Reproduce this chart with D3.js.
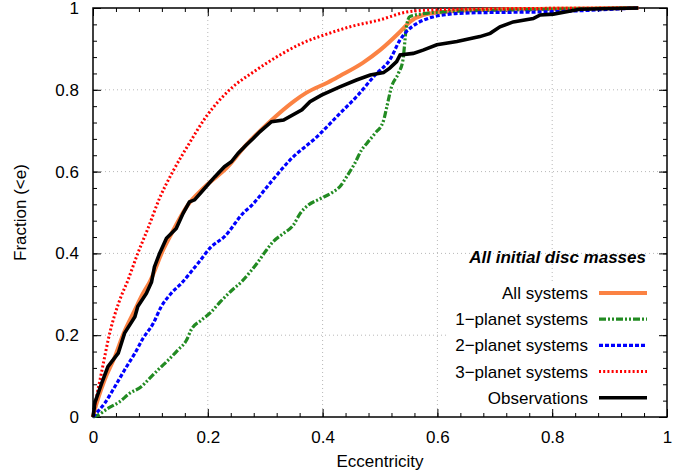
<!DOCTYPE html>
<html><head><meta charset="utf-8">
<script src="https://cdn.jsdelivr.net/npm/d3@7"></script>
<style>body{margin:0;background:#fff}svg{display:block;font-family:"Liberation Sans",Arial,sans-serif}</style>
</head><body><svg id="c" width="688" height="475"></svg>
<script>
const allSystems = [[0,0],[0.003,0.017],[0.02,0.09],[0.038,0.147],[0.052,0.2],[0.073,0.262],[0.087,0.302],[0.099,0.331],[0.122,0.408],[0.134,0.441],[0.163,0.514],[0.195,0.563],[0.235,0.612],[0.264,0.661],[0.308,0.722],[0.351,0.773],[0.372,0.793],[0.409,0.818],[0.43,0.834],[0.47,0.866],[0.5,0.897],[0.535,0.942],[0.552,0.966],[0.575,0.983],[0.616,0.991],[0.7,0.996],[0.8,0.998],[0.95,1]];
const onePlanet = [[0,0],[0.009,0.005],[0.026,0.021],[0.046,0.037],[0.064,0.058],[0.084,0.074],[0.099,0.095],[0.116,0.119],[0.131,0.139],[0.148,0.164],[0.163,0.188],[0.171,0.213],[0.189,0.237],[0.206,0.257],[0.222,0.282],[0.242,0.31],[0.259,0.331],[0.274,0.355],[0.288,0.38],[0.30,0.404],[0.314,0.429],[0.332,0.449],[0.349,0.469],[0.361,0.498],[0.375,0.518],[0.395,0.533],[0.419,0.551],[0.43,0.563],[0.442,0.588],[0.456,0.62],[0.468,0.653],[0.477,0.669],[0.491,0.693],[0.506,0.724],[0.512,0.759],[0.52,0.807],[0.532,0.84],[0.54,0.873],[0.546,0.954],[0.552,0.979],[0.57,0.985],[0.616,0.991],[0.75,0.996],[0.95,1]];
const twoPlanet = [[0,0],[0.003,0.005],[0.02,0.033],[0.038,0.074],[0.055,0.115],[0.073,0.156],[0.087,0.192],[0.105,0.229],[0.119,0.27],[0.136,0.302],[0.154,0.327],[0.183,0.376],[0.206,0.416],[0.229,0.441],[0.264,0.502],[0.274,0.514],[0.308,0.571],[0.343,0.628],[0.39,0.685],[0.43,0.742],[0.459,0.783],[0.494,0.84],[0.517,0.873],[0.535,0.922],[0.546,0.942],[0.564,0.962],[0.587,0.976],[0.616,0.984],[0.657,0.988],[0.8,0.991],[0.947,1]];
const threePlanet = [[0,0],[0.005,0.04],[0.015,0.11],[0.03,0.21],[0.045,0.28],[0.061,0.335],[0.078,0.40],[0.096,0.462],[0.116,0.535],[0.139,0.60],[0.166,0.665],[0.197,0.734],[0.238,0.80],[0.282,0.846],[0.328,0.887],[0.363,0.913],[0.409,0.937],[0.45,0.955],[0.5,0.971],[0.546,0.99],[0.6,0.996],[0.7,0.998],[0.95,1]];
const observations = [[0,0],[0.002,0.02],[0.003,0.034],[0.015,0.082],[0.026,0.123],[0.044,0.156],[0.055,0.205],[0.073,0.245],[0.078,0.27],[0.093,0.302],[0.102,0.33],[0.107,0.367],[0.116,0.40],[0.128,0.437],[0.145,0.461],[0.157,0.498],[0.168,0.526],[0.177,0.531],[0.192,0.555],[0.212,0.587],[0.229,0.612],[0.241,0.624],[0.253,0.645],[0.267,0.665],[0.279,0.681],[0.291,0.698],[0.311,0.722],[0.332,0.726],[0.364,0.751],[0.378,0.771],[0.398,0.787],[0.43,0.807],[0.459,0.824],[0.483,0.836],[0.506,0.842],[0.517,0.853],[0.529,0.869],[0.535,0.885],[0.558,0.889],[0.575,0.897],[0.599,0.91],[0.634,0.918],[0.674,0.93],[0.692,0.938],[0.709,0.954],[0.732,0.966],[0.767,0.974],[0.779,0.983],[0.802,0.985],[0.825,0.991],[0.848,0.997],[0.95,1]];
const seriesLabels = ["All systems","1\u2212planet systems","2\u2212planet systems","3\u2212planet systems","Observations"];
const xTicks = [0,0.2,0.4,0.6,0.8,1];
const yTicks = [0,0.2,0.4,0.6,0.8,1];
const xTickLabels = ["0","0.2","0.4","0.6","0.8","1"];
const yTickLabels = ["0","0.2","0.4","0.6","0.8","1"];
const legendTitle = "All initial disc masses";
const xTitle = "Eccentricity", yTitle = "Fraction (<e)";

const styles = [
  {color:"#fb8243", width:4, dash:null, smooth:true},
  {color:"#228b22", width:3.2, dash:"7,2,2,2,2,2", smooth:true},
  {color:"#0000ff", width:3.2, dash:"4,2", smooth:true},
  {color:"#ff0000", width:3, dash:"2,2.2", smooth:true},
  {color:"#000000", width:3.6, dash:null, smooth:false}
];
const data = [allSystems, onePlanet, twoPlanet, threePlanet, observations];

const L=93, R=667, T=8, B=417;
const svg = d3.select("#c");
const x = d3.scaleLinear().domain([0,1]).range([L,R]);
const y = d3.scaleLinear().domain([0,1]).range([B,T]);
const FS = 17;

// grid
const grid = svg.append("g").attr("stroke","#b8b8b8").attr("stroke-width",1).attr("stroke-dasharray","1,3");
xTicks.slice(1,-1).forEach(t=>grid.append("line").attr("x1",x(t)).attr("x2",x(t)).attr("y1",T).attr("y2",B));
yTicks.slice(1,-1).forEach(t=>grid.append("line").attr("x1",L).attr("x2",R).attr("y1",y(t)).attr("y2",y(t)));

// legend box background (covers grid)
svg.append("rect").attr("x",446).attr("y",281).attr("width",212).attr("height",131).attr("fill","#fff");

// axes with ticks (inward)
const minor = d3.range(0,1.0001,0.04);
function addAxis(axisGen, tf){ return svg.append("g").attr("transform",tf).call(axisGen); }
addAxis(d3.axisBottom(x).tickValues(xTicks).tickFormat((d,i)=>xTickLabels[i]).tickSizeInner(-8).tickSizeOuter(0).tickPadding(14), `translate(0,${B})`);
addAxis(d3.axisTop(x).tickValues(xTicks).tickFormat("").tickSizeInner(-8).tickSizeOuter(0), `translate(0,${T})`);
addAxis(d3.axisLeft(y).tickValues(yTicks).tickFormat((d,i)=>yTickLabels[i]).tickSizeInner(-8).tickSizeOuter(0).tickPadding(14), `translate(${L},0)`);
addAxis(d3.axisRight(y).tickValues(yTicks).tickFormat("").tickSizeInner(-8).tickSizeOuter(0), `translate(${R},0)`);
addAxis(d3.axisBottom(x).tickValues(minor).tickFormat("").tickSizeInner(-4).tickSizeOuter(0), `translate(0,${B})`);
addAxis(d3.axisTop(x).tickValues(minor).tickFormat("").tickSizeInner(-4).tickSizeOuter(0), `translate(0,${T})`);
addAxis(d3.axisLeft(y).tickValues(minor).tickFormat("").tickSizeInner(-4).tickSizeOuter(0), `translate(${L},0)`);
addAxis(d3.axisRight(y).tickValues(minor).tickFormat("").tickSizeInner(-4).tickSizeOuter(0), `translate(${R},0)`);
svg.selectAll(".domain").remove();
svg.selectAll(".tick line").attr("stroke","#000").attr("stroke-width",1);
svg.selectAll(".tick text").attr("font-size",FS).attr("font-family","Liberation Sans, Arial, sans-serif").attr("fill","#000");

// frame
svg.append("rect").attr("x",L).attr("y",T).attr("width",R-L).attr("height",B-T).attr("fill","none").attr("stroke","#000").attr("stroke-width",1.5);

// curves
data.forEach((s,i)=>{
  const st = styles[i];
  const line = d3.line().x(d=>x(d[0])).y(d=>y(d[1])).curve(st.smooth ? d3.curveMonotoneX : d3.curveLinear);
  svg.append("path").datum(s).attr("d",line).attr("fill","none")
    .attr("stroke",st.color).attr("stroke-width",st.width)
    .attr("stroke-dasharray",st.dash).attr("stroke-linejoin","miter").attr("stroke-linecap","butt");
});

// legend
const lg = svg.append("g").attr("font-size",FS).attr("fill","#000");
lg.append("text").attr("x",646).attr("y",263).attr("text-anchor","end").attr("font-weight","bold").attr("font-style","italic").text(legendTitle);
seriesLabels.forEach((lab,i)=>{
  const cy = 293 + i*26.2;
  lg.append("text").attr("x",588).attr("y",cy+6).attr("text-anchor","end").text(lab);
  const st = styles[i];
  lg.append("line").attr("x1",599).attr("x2",647).attr("y1",cy).attr("y2",cy)
    .attr("stroke",st.color).attr("stroke-width",st.width).attr("stroke-dasharray",st.dash);
});

// axis titles
svg.append("text").attr("x",(L+R)/2).attr("y",467).attr("text-anchor","middle").attr("font-size",FS).text(xTitle);
svg.append("text").attr("transform",`translate(26,${(T+B)/2}) rotate(-90)`).attr("text-anchor","middle").attr("font-size",FS).text(yTitle);
</script></body></html>
